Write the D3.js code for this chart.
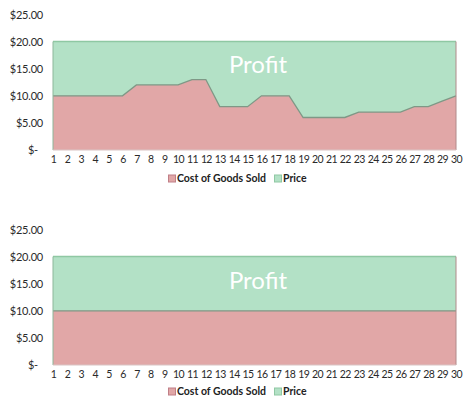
<!DOCTYPE html>
<html><head><meta charset="utf-8">
<script src="https://cdn.jsdelivr.net/npm/d3@7"></script>
<style>
html,body{margin:0;padding:0;background:#fff;}
svg{display:block;font-family:Lato,"Open Sans",sans-serif;}
</style></head>
<body>
<script>
const days = d3.range(1, 31);
const cogsTop = [10,10,10,10,10,10,12,12,12,12,13,13,8,8,8,10,10,10,6,6,6,6,7,7,7,7,8,8,9,10];
const priceTop = [20,20,20,20,20,20,20,20,20,20,20,20,20,20,20,20,20,20,20,20,20,20,20,20,20,20,20,20,20,20];
const cogsBottom = [10,10,10,10,10,10,10,10,10,10,10,10,10,10,10,10,10,10,10,10,10,10,10,10,10,10,10,10,10,10];
const priceBottom = [20,20,20,20,20,20,20,20,20,20,20,20,20,20,20,20,20,20,20,20,20,20,20,20,20,20,20,20,20,20];
const yTickValues = [0,5,10,15,20,25];
const yTickLabels = ["$-","$5.00","$10.00","$15.00","$20.00","$25.00"];
const seriesNames = ["Cost of Goods Sold","Price"];

const W = 468, H = 407;
const svg = d3.select("body").append("svg").attr("width", W).attr("height", H);

const colors = {
  priceFill: "#b3e1c6", priceLine: "#8fc8a3",
  cogsFill: "#e1a7a7", cogsLine: "#7f9886"
};

function drawChart(cfg) {
  const g = svg.append("g");
  const x = d3.scaleLinear().domain([1, 30]).range([53, 456]);
  const y = d3.scaleLinear().domain([0, 25]).range([cfg.bottom, cfg.bottom - 135.5]);

  const areaP = d3.area().x((d, i) => x(days[i])).y0(y(0)).y1(d => y(d));
  const lineP = d3.line().x((d, i) => x(days[i])).y(d => y(d));

  g.append("path").attr("d", areaP(cfg.price)).attr("fill", colors.priceFill);
  g.append("path").attr("d", areaP(cfg.cogs)).attr("fill", colors.cogsFill);
  g.append("path").attr("d", lineP(cfg.price)).attr("fill", "none").attr("stroke", colors.priceLine).attr("stroke-width", 1.5);
  g.append("path").attr("d", lineP(cfg.cogs)).attr("fill", "none").attr("stroke", colors.cogsLine).attr("stroke-width", 1.3);
  g.append("line").attr("x1", x(1)).attr("x2", x(1)).attr("y1", y(0)).attr("y2", y(cfg.price[0])).attr("stroke", "#8db79a").attr("stroke-width", 1);
  g.append("line").attr("x1", x(30)).attr("x2", x(30)).attr("y1", y(0)).attr("y2", y(cfg.price[29])).attr("stroke", "#b08a8a").attr("stroke-width", 1);
  g.append("line").attr("x1", x(1)).attr("x2", x(30)).attr("y1", y(0)).attr("y2", y(0)).attr("stroke", "#d9c4c4").attr("stroke-width", 1);

  const yAxis = d3.axisLeft(y).tickValues(yTickValues).tickSize(0).tickPadding(0)
    .tickFormat((d, i) => yTickLabels[i]);
  const ya = g.append("g").attr("transform", "translate(43,0)").call(yAxis);
  ya.select(".domain").remove();
  ya.selectAll("text").attr("font-size", 11).attr("fill", "#2a2a2a").attr("font-family", "Lato, sans-serif")
    .attr("letter-spacing", -0.2)
    .attr("dx", (d) => d === 0 ? -5 : 0);

  const xAxis = d3.axisBottom(x).tickValues(days).tickSize(0).tickPadding(0).tickFormat(d3.format("d"));
  const xa = g.append("g").attr("transform", `translate(0,${cfg.bottom + 6})`).call(xAxis);
  xa.select(".domain").remove();
  xa.selectAll("text").attr("font-size", 10.5).attr("fill", "#2a2a2a").attr("font-family", "Lato, sans-serif")
    .attr("letter-spacing", -0.6);

  g.append("text").attr("x", 258).attr("y", cfg.profitY).attr("text-anchor", "middle")
    .attr("font-size", 24).attr("fill", "#fff").attr("font-family", "Lato, sans-serif").text("Profit");

  const lg = g.append("g").attr("transform", `translate(0,${cfg.legendY})`);
  const items = [{x: 172, c: colors.cogsFill, s: "#c07f87"}, {x: 278, c: colors.priceFill, s: "#8fc8a3"}];
  items.forEach((it, i) => {
    lg.append("rect").attr("x", it.x - 3.5).attr("y", -3.5).attr("width", 7).attr("height", 7)
      .attr("fill", it.c).attr("stroke", it.s).attr("stroke-width", 1);
    lg.append("text").attr("x", it.x + 5).attr("y", 0).attr("dy", "0.35em")
      .attr("font-size", 10.5).attr("font-weight", "bold").attr("fill", "#222")
      .attr("font-family", "Lato, sans-serif").text(seriesNames[i]);
  });
}

drawChart({cogs: cogsTop, price: priceTop, bottom: 150, profitY: 73, legendY: 178.5});
drawChart({cogs: cogsBottom, price: priceBottom, bottom: 365, profitY: 288.5, legendY: 391.5});
</script>
</body></html>
